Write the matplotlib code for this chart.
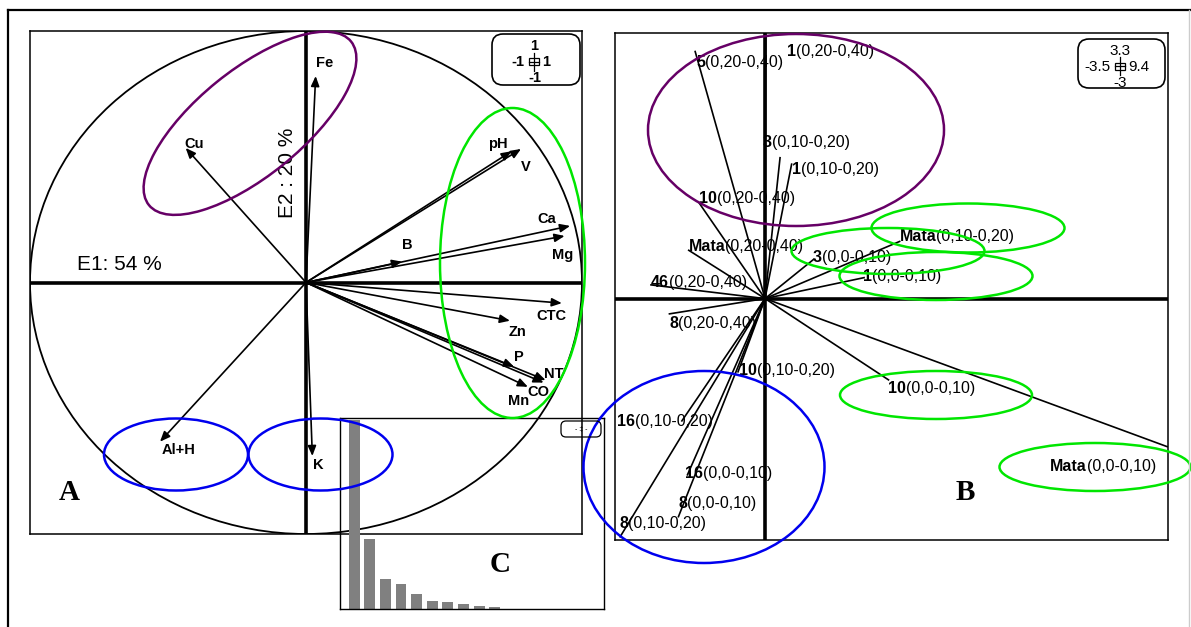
import matplotlib
matplotlib.use('Agg')
import matplotlib.pyplot as plt
from matplotlib.patches import Ellipse, Circle, FancyBboxPatch, Rectangle

W, H = 1191, 627

# A: loadings of the soil variables on E1 / E2 (correlation circle)
VARS = ['Fe', 'Cu', 'pH', 'V', 'Ca', 'Mg', 'B', 'CTC', 'Zn', 'P', 'NT', 'CO', 'Mn', 'Al+H', 'K']
E1_LOAD = [0.035, -0.436, 0.745, 0.779, 0.957, 0.937, 0.348, 0.927, 0.739, 0.754, 0.868, 0.861, 0.804, -0.529, 0.023]
E2_LOAD = [0.821, 0.535, 0.522, 0.531, 0.225, 0.185, 0.083, -0.082, -0.152, -0.335, -0.388, -0.398, -0.415, -0.633, -0.690]

# B: sample scores (site + depth layer)
SITES = ['5', '1', '3', '1', '10', 'Mata', '46', 'Mata', '3', '1',
         '8', '10', '10', 'Mata', '16', '16', '8', '8']
DEPTHS = ['(0,20-0,40)', '(0,20-0,40)', '(0,10-0,20)', '(0,10-0,20)', '(0,20-0,40)',
          '(0,20-0,40)', '(0,20-0,40)', '(0,10-0,20)', '(0,0-0,10)', '(0,0-0,10)',
          '(0,20-0,40)', '(0,10-0,20)', '(0,0-0,10)', '(0,0-0,10)', '(0,10-0,20)',
          '(0,0-0,10)', '(0,0-0,10)', '(0,10-0,20)']
F1 = [-1.63, 0.02, 0.35, 0.62, -1.54, -1.78, -2.66, 3.14, 1.14, 2.31,
      -2.23, -0.63, 2.88, 9.38, -1.94, -1.81, -2.02, -3.38]
F2 = [3.07, 3.28, 1.75, 1.67, 1.19, 0.60, 0.17, 0.71, 0.49, 0.26,
      -0.19, -0.91, -1.01, -1.84, -1.52, -2.19, -2.71, -2.96]

# C: eigenvalues (% of inertia)
EIGEN = [54, 20, 8.5, 7.1, 4.4, 2.4, 2.1, 1.4, 0.9, 0.5]

# label offsets in pixels (dx right, dy down)
A_OFFSETS = {'Fe': (9, -13), 'Cu': (8, -4), 'pH': (-14, -7), 'V': (5, 18), 'Ca': (-23, -7),
             'Mg': (-2, 19), 'B': (5, -17), 'CTC': (-10, 13), 'Zn': (8, 11), 'P': (5, -10),
             'NT': (8, -6), 'CO': (-5, 9), 'Mn': (-9, 14), 'Al+H': (19, 8), 'K': (6, 9)}
B_OFFSETS = [(1, 11), (21, 17), (-17, -15), (0, 5), (0, -4), (0, -4), (0, -2), (0, -5), (-1, -2),
             (-1, -1), (0, 10), (1, -1), (0, 9), (-117, 20), (-65, 1), (-2, -1), (0, -13), (-1, -13)]

PURPLE = '#660066'
GREEN = '#00e600'
BLUE = '#0000ee'

plt.rcParams['font.family'] = ['Liberation Sans', 'DejaVu Sans']

fig = plt.figure(figsize=(W / 100, H / 100), dpi=100)


def px_axes(x0, y0, x1, y1, **kw):
    return fig.add_axes([x0 / W, 1 - y1 / H, (x1 - x0) / W, (y1 - y0) / H], **kw)


# ---- A: correlation circle
axA = px_axes(30, 31, 582, 534)
axA.set_xlim(-1, 1)
axA.set_ylim(-1, 1)
axA.set_xticks([])
axA.set_yticks([])
for s in axA.spines.values():
    s.set_linewidth(1.1)
axA.add_patch(Circle((0, 0), 1, fill=False, lw=1.3, color='k'))
axA.axhline(0, color='k', lw=2.6)
axA.axvline(0, color='k', lw=2.6)
for name, x, y in zip(VARS, E1_LOAD, E2_LOAD):
    axA.annotate('', xy=(x, y), xytext=(0, 0),
                 arrowprops=dict(arrowstyle='-|>,head_length=0.6,head_width=0.25',
                                 color='k', lw=1.2, shrinkA=0, shrinkB=0))
    dx, dy = A_OFFSETS[name]
    axA.annotate(name, xy=(x, y), xytext=(dx, -dy), textcoords='offset pixels',
                 ha='center', va='center', fontsize=10.5, fontweight='bold')
axA.text(0.085, 0.535, 'E1: 54 %', transform=axA.transAxes, fontsize=15,
         ha='left', va='center')
axA.text(0.466, 0.718, 'E2 : 20 %', transform=axA.transAxes, fontsize=15,
         ha='center', va='center', rotation=90)

# ---- B: sample scores
axB = px_axes(615, 33, 1168, 540)
axB.set_xlim(-3.5, 9.4)
axB.set_ylim(-3, 3.3)
axB.set_xticks([])
axB.set_yticks([])
for s in axB.spines.values():
    s.set_linewidth(1.1)
axB.axhline(0, color='k', lw=2.6)
axB.axvline(0, color='k', lw=2.6)
for site, depth, x, y, (dx, dy) in zip(SITES, DEPTHS, F1, F2, B_OFFSETS):
    axB.plot([0, x], [0, y], color='k', lw=1.2)
    t = axB.annotate(site, xy=(x, y), xytext=(dx, -dy), textcoords='offset pixels',
                     ha='left', va='center', fontsize=11.5, fontweight='bold')
    axB.annotate(depth, xy=(1, 0), xycoords=t, ha='left', va='bottom', fontsize=11.5)

# ---- C: eigenvalue bar chart
axC = px_axes(339.5, 417.5, 604, 609)
axC.patch.set_alpha(0)
axC.bar(range(len(EIGEN)), EIGEN, width=0.7, color='#808080')
axC.set_xlim(-0.94, 16)
axC.set_ylim(0, 54.7)
axC.set_xticks([])
axC.set_yticks([])
for s in axC.spines.values():
    s.set_linewidth(1.0)

# ---- overlay in pixel units: frame, group ellipses, scale boxes, panel letters
ov = fig.add_axes([0, 0, 1, 1])
ov.set_xlim(0, W)
ov.set_ylim(H, 0)
ov.axis('off')
ov.patch.set_alpha(0)

ov.plot([8, 8], [10, H], color='k', lw=1.6)
ov.plot([8, W], [10, 10], color='k', lw=1.6)
ov.plot([1189, 1189], [10, H], color='#cccccc', lw=1.0)

groups = [
    (PURPLE, (250, 123.3), 260, 106, -39),
    (GREEN, (512.5, 263), 145, 310, 0),
    (BLUE, (176, 454.5), 144, 72, 0),
    (BLUE, (320.5, 454.5), 144, 72, 0),
    (PURPLE, (796, 130), 296, 192, 0),
    (GREEN, (968, 228), 193, 49, 0),
    (GREEN, (888, 251), 193, 46, 0),
    (GREEN, (936, 276), 193, 48, 0),
    (GREEN, (936, 395), 192, 48, 0),
    (GREEN, (1095, 467), 191, 48, 0),
    (BLUE, (704, 467), 241, 192, 0),
]
for color, c, w, h, ang in groups:
    ov.add_patch(Ellipse(c, w, h, angle=ang, fill=False, ec=color, lw=1.8))


def scale_box(x0, y0, w, h, top, left, right, bottom, cx, cy, bold, size):
    ov.add_patch(FancyBboxPatch((x0, y0), w, h, boxstyle='round,pad=0,rounding_size=11',
                                fill=False, lw=1.2, ec='k'))
    wt = 'bold' if bold else 'normal'
    ov.text(cx + 1, cy - 15, top, ha='center', va='center', fontsize=size, fontweight=wt)
    ov.text(cx - 9, cy + 1, left, ha='right', va='center', fontsize=size, fontweight=wt)
    ov.text(cx + 9, cy + 1, right, ha='left', va='center', fontsize=size, fontweight=wt)
    ov.text(cx + 1, cy + 17, bottom, ha='center', va='center', fontsize=size, fontweight=wt)
    ov.add_patch(Rectangle((cx - 5, cy - 3.5), 10, 7, fill=False, lw=0.9, ec='k'))
    ov.plot([cx, cx], [cy - 9, cy + 9], color='k', lw=0.9)
    ov.plot([cx - 5, cx + 5], [cy, cy], color='k', lw=0.9)


scale_box(492, 34, 88, 51, '1', '-1', '1', '-1', 533.5, 61.5, True, 10.5)
scale_box(1078, 39, 87, 49, '3.3', '-3.5', '9.4', '-3', 1119.5, 66, False, 11)

ov.add_patch(FancyBboxPatch((561, 421), 40, 16, boxstyle='round,pad=0,rounding_size=5',
                            fill=False, lw=0.9, ec='k'))
ov.text(581, 429, '- \u2021 -', ha='center', va='center', fontsize=5)

for letter, x, y in [('A', 69, 493), ('B', 965, 492.5), ('C', 500, 564)]:
    ov.text(x, y, letter, ha='center', va='center', fontsize=21, fontweight='bold',
            family='Liberation Serif')

fig.savefig('out.png', dpi=100)
